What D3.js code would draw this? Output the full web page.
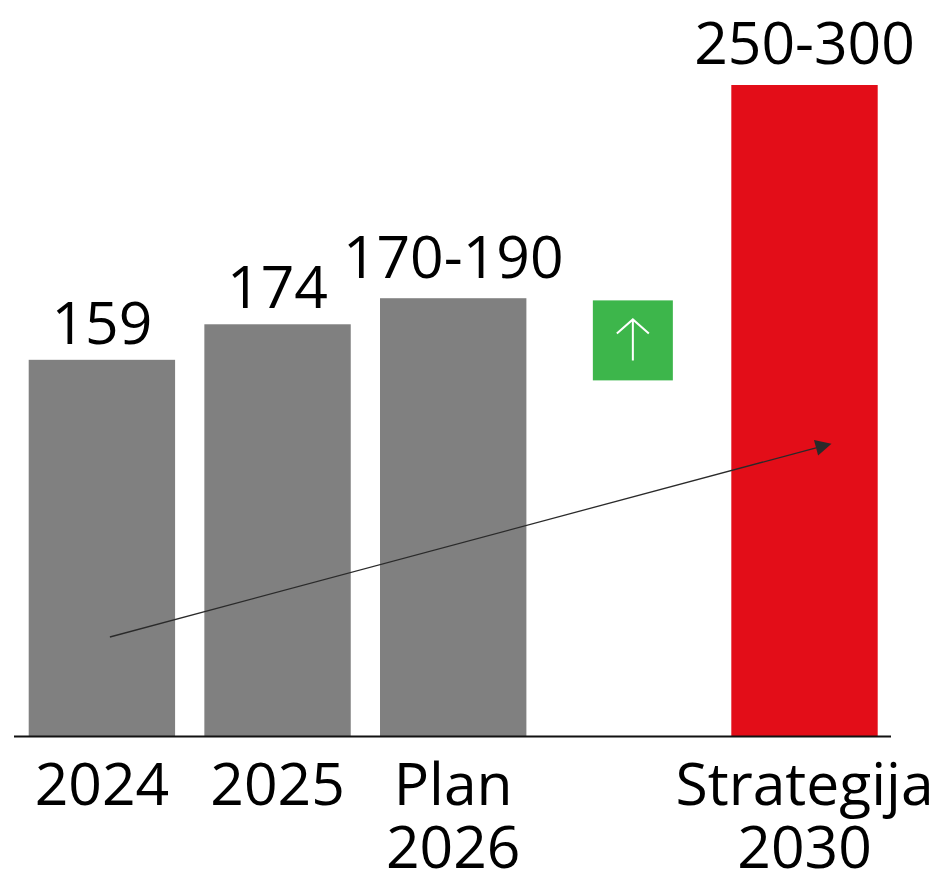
<!DOCTYPE html>
<html><head><meta charset="utf-8">
<script src="https://cdn.jsdelivr.net/npm/d3@7"></script>
<style>html,body{margin:0;padding:0;background:#fff}svg{display:block}text{font-family:"Open Sans",sans-serif;fill:#000}</style>
</head><body><svg id="c" width="938" height="873"></svg>
<script>
const categories = ["2024","2025","Plan 2026","","Strategija 2030"];
const barCategories = ["2024","2025","Plan 2026","Strategija 2030"];
const plotValues = [159,174,185,275];
const valueLabels = ["159","174","170-190","250-300"];
const barColors = ["#808080","#808080","#808080","#e30d18"];
const trendArrowValues = [42,123.6];

const W=938,H=873,FS=58.8;
const labelGaps=[16,16,20,21];
const svg=d3.select("#c");
const x=d3.scaleBand().domain(categories).range([28.7,877.7]).paddingInner(0.1666).paddingOuter(0);
const y=d3.scaleLinear().domain([0,275]).range([736.5,85]);

svg.selectAll("rect.bar").data(barCategories).join("rect").attr("class","bar")
 .attr("x",d=>x(d)).attr("width",x.bandwidth())
 .attr("y",(d,i)=>y(plotValues[i])).attr("height",(d,i)=>y(0)-y(plotValues[i]))
 .attr("fill",(d,i)=>barColors[i]);

// value labels
svg.selectAll("text.val").data(barCategories).join("text").attr("class","val")
 .attr("x",d=>x(d)+x.bandwidth()/2).attr("y",(d,i)=>y(plotValues[i])-labelGaps[i])
 .attr("text-anchor","middle").attr("font-size",FS).text((d,i)=>valueLabels[i]);

// axis
const axis=d3.axisBottom(x).tickSize(0).tickPadding(0);
const ag=svg.append("g").attr("transform",`translate(0,${y(0)})`).call(axis);
ag.select(".domain").remove();
ag.selectAll(".tick text").each(function(d){
  const t=d3.select(this).text("").attr("font-size",FS).attr("font-family",'"Open Sans",sans-serif').attr("y",0).attr("dy",null);
  const parts=d.split(" ");
  parts.forEach((p,i)=>t.append("tspan").attr("x",0).attr("y",68.5+i*63).text(p));
});
svg.append("line").attr("x1",14).attr("x2",891).attr("y1",y(0)).attr("y2",y(0)).attr("stroke","#111").attr("stroke-width",2);

// trend arrow
const ax1=x("2024")+x.bandwidth()/2+8, ax2=x("Strategija 2030")+x.bandwidth()/2+27;
const ay1=y(trendArrowValues[0]), ay2=y(trendArrowValues[1]);
const ang=Math.atan2(ay2-ay1,ax2-ax1), L=16, Hw=8;
const bx=ax2-L*Math.cos(ang), by=ay2-L*Math.sin(ang);
svg.append("line").attr("x1",ax1).attr("y1",ay1).attr("x2",bx).attr("y2",by).attr("stroke","#2a2a2a").attr("stroke-width",1.3);
svg.append("polygon").attr("fill","#2a2a2a").attr("points",[
 [ax2,ay2],[bx-Hw*Math.sin(ang),by+Hw*Math.cos(ang)],[bx+Hw*Math.sin(ang),by-Hw*Math.cos(ang)]].map(p=>p.join(",")).join(" "));

// green badge
const bxc=x("")+x.bandwidth()/2+4, byc=y(167.2);
const g=svg.append("g").attr("transform",`translate(${bxc},${byc})`);
g.append("rect").attr("x",-40).attr("y",-40).attr("width",80).attr("height",80).attr("fill","#3db64b");
g.append("path").attr("d","M0,20V-21M-16,-7L0,-21L16,-7").attr("fill","none").attr("stroke","#fff").attr("stroke-width",2);
</script></body></html>
